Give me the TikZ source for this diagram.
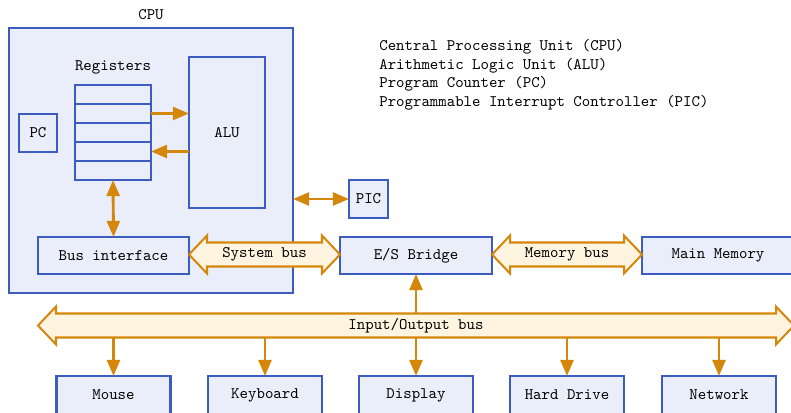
\documentclass[tikz,border=0pt]{standalone}
\usetikzlibrary{arrows.meta}

% one drawing unit
\newlength\pxu
\setlength\pxu{0.622pt}

\definecolor{boxline}{RGB}{60,92,192}
\definecolor{boxfill}{RGB}{234,238,250}
\definecolor{busline}{RGB}{212,135,10}
\definecolor{busfill}{RGB}{255,244,224}

\tikzset{
  unit/.style={draw=boxline, fill=boxfill, line width=1.25pt, font=\ttfamily,
               inner sep=0pt, outer sep=0pt},
  link/.style={draw=busline, line width=1.8pt, -{Triangle[length=10pt,width=8pt]}},
  duplex/.style={draw=busline, line width=1.8pt,
               {Triangle[length=10pt,width=8pt]}-{Triangle[length=10pt,width=8pt]}},
  busbody/.style={draw=busline, fill=busfill, line width=1.25pt, line join=miter},
  lbl/.style={font=\ttfamily, inner sep=0pt},
}

% \unitbox{name}{x}{y}{width}{height}{text}
\newcommand\unitbox[6]{%
  \node[unit, minimum width=#4\pxu, minimum height=#5\pxu] (#1) at ({#2},{#3}) {#6};}

% \busshape{name}{x-left tip}{x-right tip}{y centre}{text}
\newcommand\busshape[5]{%
  \draw[busbody] (#2,#4) -- (#2+18,#4-19) -- (#2+18,#4-12) -- (#3-18,#4-12)
    -- (#3-18,#4-19) -- (#3,#4) -- (#3-18,#4+19) -- (#3-18,#4+12)
    -- (#2+18,#4+12) -- (#2+18,#4+19) -- cycle;
  \node[lbl] (#1) at ({(#2+#3)/2},#4) {#5};}

\begin{document}
\begin{tikzpicture}[x=\pxu, y=-\pxu]
  \clip (0,0) rectangle (791,413);
  \fill[white] (0,0) rectangle (791,413);

  % processor
  \unitbox{cpu}{151}{160.5}{284}{265}{}
  \node[lbl] (cputitle) at (151,15) {CPU};

  \unitbox{pc}{38}{133}{38}{38}{PC}
  \unitbox{alu}{227}{132.5}{76}{151}{ALU}

  % register file
  \node[lbl] (regtitle) at (113,67.5) {Registers};
  \foreach \k in {1,...,5}{
    \pgfmathsetmacro\ry{94.5+19*(\k-1)}
    \unitbox{reg\k}{113}{\ry}{76}{19}{}
  }

  \unitbox{busif}{113.5}{255.5}{151}{37}{Bus interface}
  \unitbox{bridge}{416}{255.5}{152}{37}{E/S Bridge}
  \unitbox{mem}{718}{255.5}{152}{37}{Main Memory}
  \unitbox{pic}{368.5}{199}{39}{38}{PIC}

  % buses
  \busshape{sysbus}{189}{340}{254.5}{System bus}
  \busshape{membus}{492}{642}{254.5}{Memory bus}
  \busshape{iobus}{38}{794}{325.5}{Input/Output bus}
  \coordinate (iotop) at (416,313.5);
  \coordinate (iobot) at (416,337.5);

  % devices
  \unitbox{mouse}{113.5}{395}{114}{38}{Mouse}
  \unitbox{keyb}{265}{395}{114}{38}{Keyboard}
  \unitbox{disp}{416}{395}{114}{38}{Display}
  \unitbox{disk}{567}{395}{114}{38}{Hard Drive}
  \unitbox{net}{719}{395}{114}{38}{Network}

  % connectors
  \draw[link] (reg2.east) -- (reg2.east -| alu.west);
  \draw[link] (reg4.east -| alu.west) -- (reg4.east);
  \draw[duplex] (reg5.south) -- (busif.north);
  \draw[duplex] (pic.west -| cpu.east) -- (pic.west);
  \draw[link] (iotop) -- (bridge.south);
  \foreach \d in {mouse,keyb,disp,disk,net}{
    \draw[link] (\d.north |- iobot) -- (\d.north);
  }

  % legend
  \node[lbl, anchor=west] (leg1) at (379,46.5) {Central Processing Unit (CPU)};
  \node[lbl, anchor=west] (leg2) at (379,65.5) {Arithmetic Logic Unit (ALU)};
  \node[lbl, anchor=west] (leg3) at (379,84) {Program Counter (PC)};
  \node[lbl, anchor=west] (leg4) at (379,102.5) {Programmable Interrupt Controller (PIC)};
\end{tikzpicture}
\end{document}
